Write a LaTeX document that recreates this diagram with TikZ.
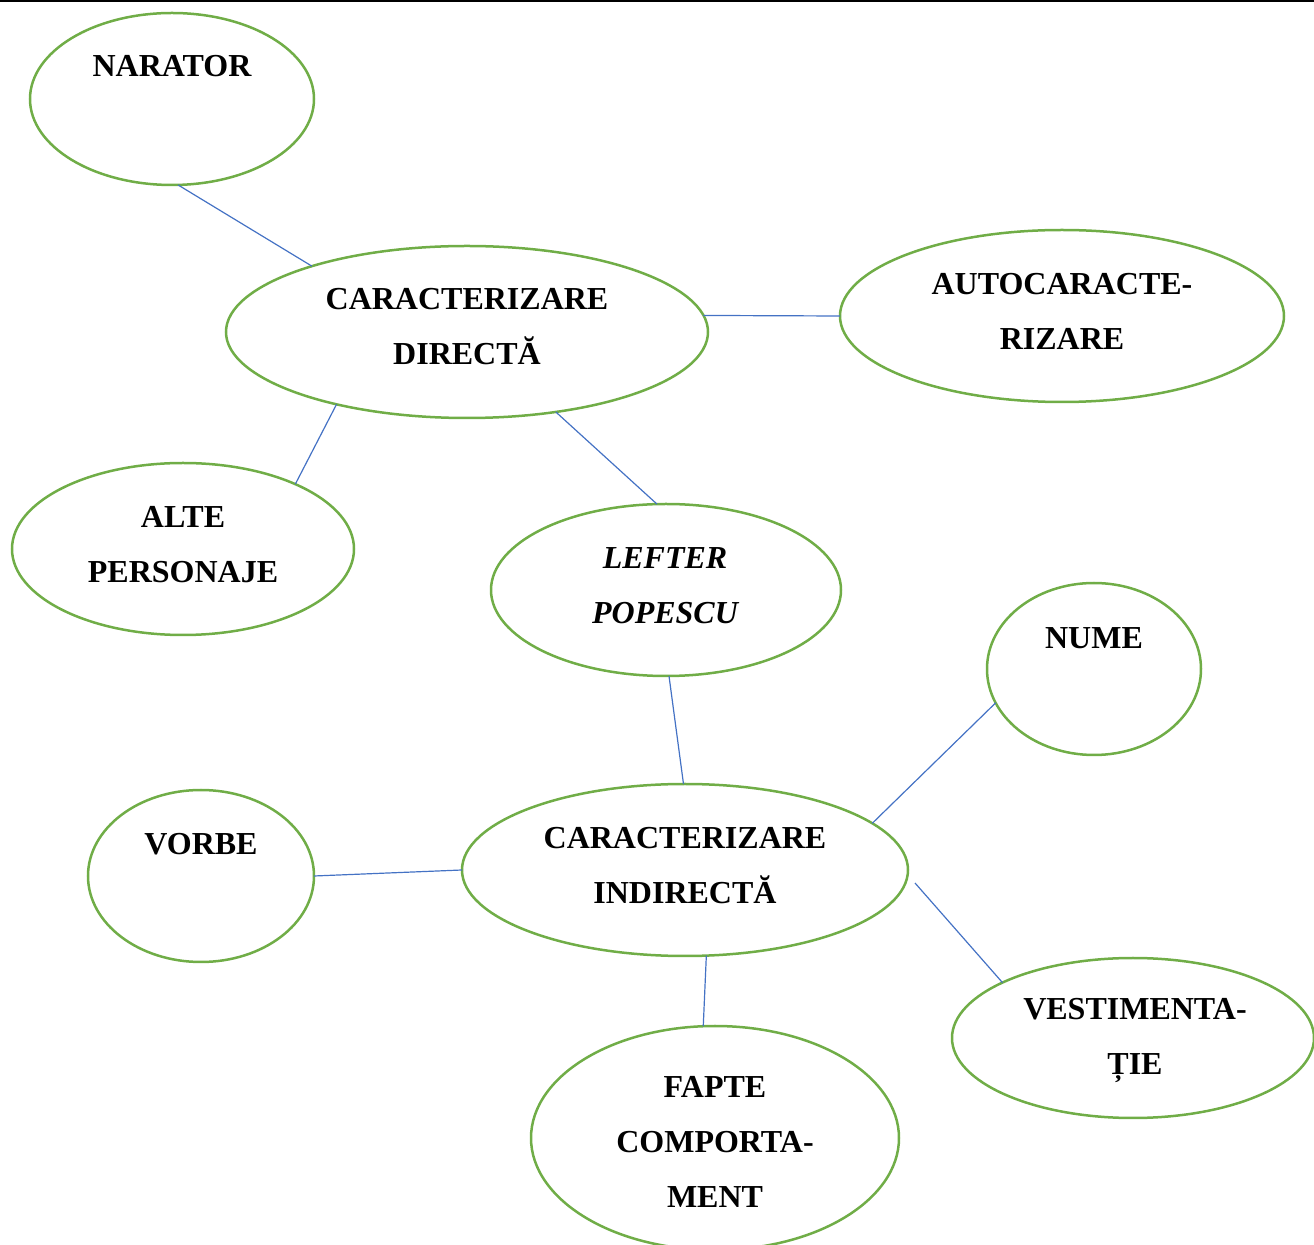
\documentclass[tikz,border=0pt]{standalone}
\usepackage{fontspec}
\setmainfont{Liberation Serif}
\usetikzlibrary{shapes.geometric}
\definecolor{ovalgreen}{HTML}{70AD47}
\definecolor{linkblue}{HTML}{4472C4}

\begin{document}
\begin{tikzpicture}[x=0.5pt,y=-0.5pt,
        oval/.style={ellipse,draw=ovalgreen,line width=1.25pt,outer sep=0pt,inner sep=0pt},
        lbl/.style={align=center,font=\fontsize{16}{27.5}\selectfont\bfseries},
        link/.style={draw=linkblue,line width=0.6pt}]
        \useasboundingbox (0,0) rectangle (1314,1245);
        \clip (0,0) rectangle (1314,1245);
        \draw[line width=1.25pt] (0,1) -- (1314,1);
        % ovals
        \node(NAR)[oval,minimum width=142pt,minimum height=86pt] at (172,99) {};
        \node(DIR)[oval,minimum width=241pt,minimum height=86pt] at (467,332) {};
        \node(AUTO)[oval,minimum width=222pt,minimum height=86pt] at (1062,316) {};
        \node(ALTE)[oval,minimum width=171pt,minimum height=86pt] at (183,549) {};
        \node(LP)[oval,minimum width=175pt,minimum height=86pt] at (666,590) {};
        \node(NUME)[oval,minimum width=107pt,minimum height=86pt] at (1094,669) {};
        \node(VORBE)[oval,minimum width=113pt,minimum height=86pt] at (201,876) {};
        \node(IND)[oval,minimum width=223pt,minimum height=86pt] at (685,870) {};
        \node(VEST)[oval,minimum width=181pt,minimum height=80pt] at (1133,1038) {};
        \node(FAPTE)[oval,minimum width=184pt,minimum height=112pt] at (715,1138) {};
        % texts
        \node(NARt)[lbl] at (172,66) {NARATOR};
        \node(DIRt)[lbl] at (467,327) {CARACTERIZARE\\DIRECTĂ};
        \node(AUTOt)[lbl] at (1062,311) {AUTOCARACTE-\\RIZARE};
        \node(ALTEt)[lbl] at (183,545) {ALTE\\PERSONAJE};
        \node(LPt)[lbl,font=\fontsize{16}{27.5}\selectfont\bfseries\itshape] at (665,586) {LEFTER\\POPESCU};
        \node(NUMEt)[lbl] at (1094,638) {NUME};
        \node(VORBEt)[lbl] at (201,844) {VORBE};
        \node(INDt)[lbl] at (685,866) {CARACTERIZARE\\INDIRECTĂ};
        \node(VESTt)[lbl] at (1135,1040) {VESTIMENTA-\\ȚIE};
        \node(FAPTEt)[lbl] at (715,1142) {FAPTE\\COMPORTA-\\MENT};
        % links
        \coordinate(INDv) at (915,883);
        \draw[link] (NAR.-86) -- (DIR.157);
        \draw[link] (DIR.4) -- (AUTO.180);
        \draw[link] (DIR.209) -- (ALTE.30);
        \draw[link] (DIR.-42) -- (LP.96);
        \draw[link] (LP.-88) -- (IND.91);
        \draw[link] (IND.14) -- (NUME.199);
        \draw[link] (IND.180) -- (VORBE.0);
        \draw[link] (INDv) -- (VEST.157);
        \draw[link] (IND.-76) -- (FAPTE.96);
    \end{tikzpicture}
\end{document}
